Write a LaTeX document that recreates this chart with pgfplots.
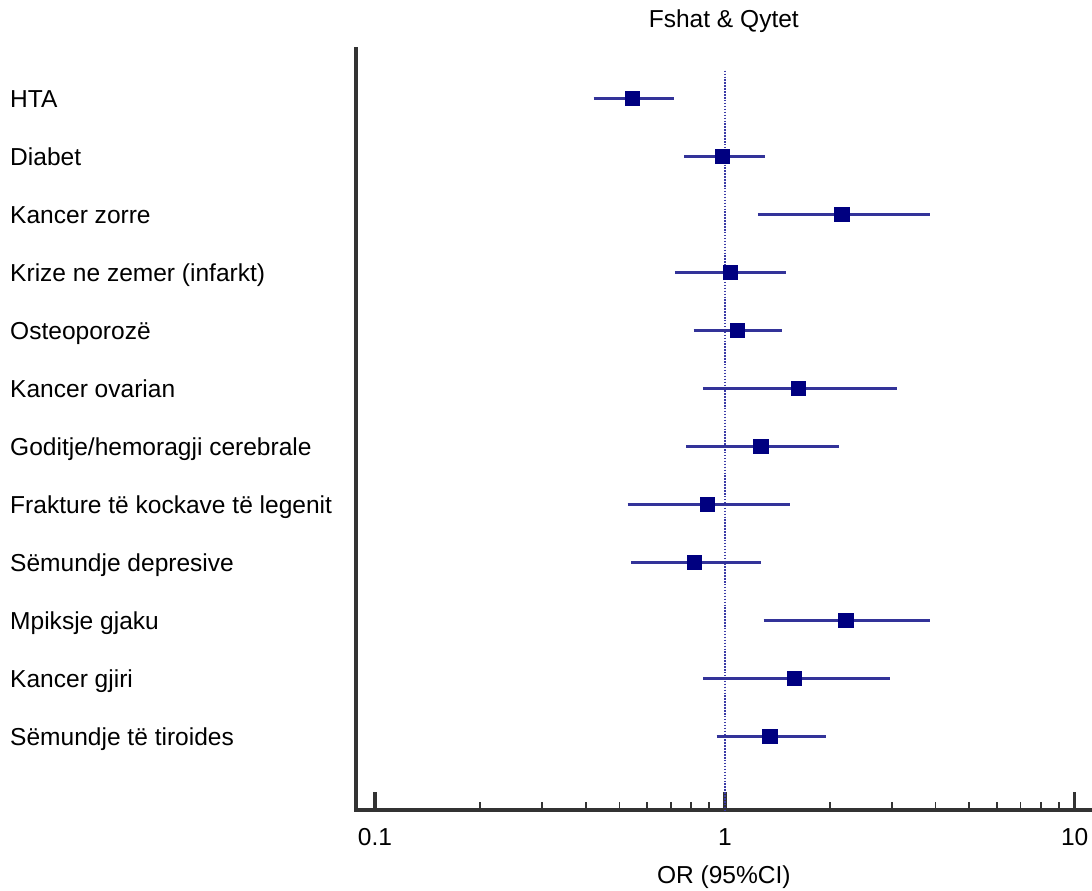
\documentclass[border=0pt]{standalone}
\usepackage{fontspec}
\setmainfont{Liberation Sans}
\usepackage{pgfplots}
\pgfplotsset{compat=1.18}
\definecolor{navysq}{HTML}{000080}
\definecolor{cibar}{HTML}{333399}
\definecolor{refline}{HTML}{3A3AA6}
\definecolor{axgray}{HTML}{333333}
\newcommand{\cf}{\fontsize{18.4}{22}\selectfont}
\begin{document}
\begin{tikzpicture}
\begin{axis}[
  scale only axis, width=552.2pt, height=570.75pt,
  xmode=log, xmin=0.0881, xmax=11.2,
  ymin=0.147, ymax=13.267, y dir=reverse,
  axis x line*=bottom, axis y line*=left,
  axis line style={-, line width=3pt, color=axgray, line cap=rect},
  xtick={0.1,1,10}, xticklabels={0.1,1,10},
  minor xtick={0.2,0.3,0.4,0.5,0.6,0.7,0.8,0.9,2,3,4,5,6,7,8,9},
  tick align=inside,
  major tick length=13.5pt, minor tick length=6pt,
  xtick style={color=axgray},
  every major tick/.append style={line width=2.6pt},
  every minor tick/.append style={line width=1.4pt},
  ytick={1,...,12},
  yticklabels={HTA, Diabet, Kancer zorre, Krize ne zemer (infarkt), Osteoporozë, Kancer ovarian, Goditje/hemoragji cerebrale, Frakture të kockave të legenit, Sëmundje depresive, Mpiksje gjaku, Kancer gjiri, Sëmundje të tiroides},
  ytick style={draw=none},
  /pgf/number format/assume math mode=true,
  yticklabel style={anchor=base west, inner sep=0pt, xshift=-259.3pt, yshift=-7pt, font=\cf},
  xticklabel style={anchor=base, inner sep=0pt, yshift=-26.25pt, font=\cf},
  xlabel={OR (95\%CI)},
  xlabel style={at={(axis description cs:0.5,0)}, anchor=base, inner sep=0pt, yshift=-54.75pt, font=\cf},
  title={Fshat \& Qytet},
  title style={at={(axis description cs:0.5,1)}, anchor=base, inner sep=0pt, yshift=10.5pt, font=\cf},
  clip=false,
]
\coordinate (ll) at (axis description cs:0,0);
% reference line at OR = 1
\addplot[refline, line width=1.1pt, dash pattern=on 1.1pt off 1.1pt] coordinates {(1,0.52) (1,13.267)};
% 95% CI lines
\addplot[cibar, line width=2.8pt] coordinates {(0.422,1) (0.717,1)};
\addplot[cibar, line width=2.8pt] coordinates {(0.766,2) (1.302,2)};
\addplot[cibar, line width=2.8pt] coordinates {(1.243,3) (3.846,3)};
\addplot[cibar, line width=2.8pt] coordinates {(0.720,4) (1.495,4)};
\addplot[cibar, line width=2.8pt] coordinates {(0.814,5) (1.459,5)};
\addplot[cibar, line width=2.8pt] coordinates {(0.866,6) (3.114,6)};
\addplot[cibar, line width=2.8pt] coordinates {(0.776,7) (2.118,7)};
\addplot[cibar, line width=2.8pt] coordinates {(0.527,8) (1.531,8)};
\addplot[cibar, line width=2.8pt] coordinates {(0.540,9) (1.270,9)};
\addplot[cibar, line width=2.8pt] coordinates {(1.290,10) (3.846,10)};
\addplot[cibar, line width=2.8pt] coordinates {(0.868,11) (2.963,11)};
\addplot[cibar, line width=2.8pt] coordinates {(0.947,12) (1.940,12)};
% point estimates
\addplot[only marks, mark=square*, mark size=5.4pt, mark options={fill=navysq, draw=navysq, line width=0.4pt}] coordinates {
(0.543,1) (0.985,2) (2.161,3) (1.036,4) (1.087,5) (1.624,6)
(1.265,7) (0.892,8) (0.818,9) (2.218,10) (1.581,11) (1.345,12)};
\end{axis}
\pgfresetboundingbox
\path (ll) ++(-266.78pt,-60pt) rectangle ++(819pt,667.5pt);
\end{tikzpicture}
\end{document}
